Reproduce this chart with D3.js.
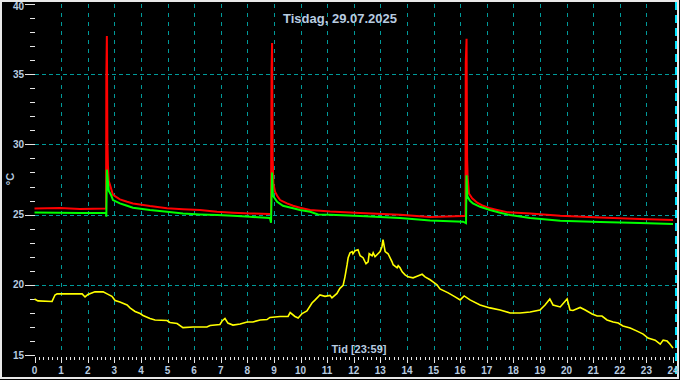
<!DOCTYPE html>
<html><head><meta charset="utf-8">
<script src="https://cdn.jsdelivr.net/npm/d3@7"></script>
<style>
html,body{margin:0;padding:0;background:#000;}
svg{display:block;}
text{font-family:"Liberation Sans",Arial,sans-serif;}
</style></head>
<body>
<script>
const title = "Tisdag, 29.07.2025";
const xTitle = "Tid [23:59]";
const yTitle = "°C";
const xTickLabels = d3.range(0, 25);
const yTickLabels = [15, 20, 25, 30, 35, 40];
const yGridValues = [20, 25, 30, 35];

const redHours = [0,0.96,1.71,2.69,2.70,2.72,2.74,2.76,2.79,2.84,2.95,3.21,3.48,3.70,4.34,4.98,5.58,6.22,6.86,7.46,8.10,8.85,8.89,8.91,8.93,8.95,8.98,9.04,9.12,9.23,9.49,9.72,9.98,10.36,11.11,12.24,13.74,14.87,16.11,16.20,16.21,16.24,16.26,16.28,16.33,16.45,16.64,16.86,17.12,17.39,17.76,18.63,19.76,21.26,22.76,24];
const redValues = [25.43,25.47,25.40,25.43,34.8,37.7,30.3,28.5,27.4,27.1,26.4,26.09,25.92,25.80,25.61,25.45,25.38,25.33,25.21,25.14,25.09,25.04,25.04,35.3,37.2,29.1,27.2,26.63,26.34,26.04,25.80,25.63,25.49,25.33,25.22,25.11,25.0,24.83,24.90,24.90,35.8,37.5,29.0,27.7,26.51,26.16,25.85,25.63,25.45,25.33,25.18,25.08,24.92,24.79,24.69,24.62];

const greenHours = [0,1.71,2.69,2.70,2.72,2.75,2.79,2.88,2.95,3.21,3.48,3.70,4.34,4.98,5.58,6.22,6.86,7.46,8.10,8.85,8.89,8.93,8.96,8.99,9.12,9.34,9.72,9.98,10.36,10.66,11.11,12.24,13.74,14.87,16.11,16.22,16.24,16.27,16.37,16.48,16.75,17.12,17.50,17.88,18.63,19.76,21.26,22.76,24];
const greenValues = [25.15,25.11,25.11,24.85,28.2,27.57,26.7,26.39,26.04,25.80,25.63,25.49,25.33,25.21,25.09,25.02,24.97,24.92,24.85,24.76,24.42,28.0,26.36,26.27,25.92,25.63,25.45,25.33,25.21,25.02,25.0,24.90,24.76,24.58,24.50,24.40,27.8,26.3,25.99,25.80,25.56,25.33,25.14,24.97,24.76,24.57,24.47,24.40,24.33];

const yellowHours = [0,0.13,0.66,0.77,0.85,1.79,1.90,2.01,2.27,2.58,2.73,2.91,3.03,3.21,3.48,3.59,3.78,3.97,4.08,4.34,4.53,4.98,5.09,5.36,5.58,5.96,6.48,6.60,6.97,7.05,7.16,7.27,7.46,7.73,7.99,8.21,8.48,8.74,8.85,9.23,9.53,9.61,9.79,9.91,10.06,10.24,10.43,10.55,10.73,10.92,11.11,11.18,11.37,11.48,11.60,11.67,11.75,11.79,11.86,11.94,11.97,12.05,12.16,12.24,12.35,12.46,12.54,12.58,12.69,12.73,12.80,12.91,12.99,13.06,13.10,13.18,13.29,13.44,13.48,13.63,13.67,13.74,13.82,13.93,14.04,14.23,14.38,14.57,14.68,14.87,14.98,15.13,15.24,15.55,15.81,16.0,16.15,16.37,16.75,17.12,17.5,17.88,18.25,18.63,19.0,19.19,19.37,19.49,19.76,20.02,20.13,20.24,20.51,20.70,20.96,21.15,21.33,21.52,21.75,21.94,22.12,22.39,22.65,22.88,23.06,23.33,23.52,23.63,23.78,23.89,24.0];
const yellowValues = [19.0,18.87,18.83,19.29,19.37,19.37,19.15,19.33,19.51,19.51,19.37,19.19,18.90,18.79,18.58,18.37,18.12,17.97,17.83,17.62,17.51,17.47,17.33,17.26,16.97,17.01,17.01,17.12,17.19,17.44,17.62,17.29,17.15,17.22,17.37,17.37,17.51,17.54,17.69,17.76,17.76,18.04,17.76,17.65,17.97,18.15,18.72,18.94,19.29,19.19,19.26,19.08,19.40,19.76,19.97,20.58,21.44,21.94,22.29,22.37,22.22,22.44,22.51,22.08,21.94,21.51,21.65,22.22,22.08,22.29,22.01,22.22,22.37,22.72,23.22,22.37,22.22,21.65,21.44,21.22,21.37,21.22,20.94,20.72,20.58,20.51,20.62,20.76,20.58,20.37,20.22,20.01,19.72,19.44,19.15,18.94,19.22,18.94,18.58,18.37,18.22,18.01,18.01,18.08,18.22,18.58,19.01,18.58,18.44,19.01,18.22,18.19,18.40,18.22,17.94,17.79,17.79,17.51,17.37,17.29,17.08,16.94,16.72,16.51,16.22,16.08,15.79,16.08,16.01,15.79,15.51];

const W = 680, H = 380;
const svg = d3.select("body").append("svg").attr("width", W).attr("height", H);
svg.append("rect").attr("width", W).attr("height", H).attr("fill", "#000");

const x = d3.scaleLinear().domain([0, 24]).range([34.5, 673]);
const y = d3.scaleLinear().domain([15, 40]).range([355.3, 3.7]);
const px = v => Math.round(x(v)) + 0.5;
const py = v => Math.round(y(v)) + 0.5;

const textColor = "#b8cce0";
const gridColor = "#009a9a";

// frame
svg.append("rect").attr("x", 1).attr("y", 1).attr("width", 677).attr("height", 377)
  .attr("fill", "none").attr("stroke", "#e8e8e8").attr("stroke-width", 2);

// vertical grid
svg.append("g").selectAll("line").data(d3.range(1, 24)).join("line")
  .attr("x1", d => px(d)).attr("x2", d => px(d))
  .attr("y1", 4).attr("y2", 355)
  .attr("stroke", gridColor).attr("stroke-width", 1).attr("stroke-dasharray", "4,5");
// horizontal grid
svg.append("g").selectAll("line").data(yGridValues).join("line")
  .attr("x1", 35).attr("x2", 676)
  .attr("y1", d => py(d)).attr("y2", d => py(d))
  .attr("stroke", gridColor).attr("stroke-width", 1).attr("stroke-dasharray", "4,3");

// cursor line at the end
svg.append("line").attr("x1", 676).attr("x2", 676).attr("y1", 2).attr("y2", 376)
  .attr("stroke", "#00e5ff").attr("stroke-width", 2).attr("stroke-dasharray", "8,5");

// y-axis ticks
svg.append("g").selectAll("line").data(d3.range(15, 41)).join("line")
  .attr("x1", d => d % 5 === 0 ? 25 : 30).attr("x2", 35)
  .attr("y1", d => py(d)).attr("y2", d => py(d))
  .attr("stroke", "#e6e6e6").attr("stroke-width", 1);
svg.append("g").selectAll("text").data(yTickLabels).join("text")
  .attr("x", 24).attr("y", d => Math.max(y(d) + 3.5, 10))
  .attr("text-anchor", "end").attr("fill", textColor)
  .attr("font-size", "10px").attr("font-weight", "bold").text(d => d);

// x-axis ticks
svg.append("g").selectAll("line").data(d3.range(0, 24 * 6 + 1)).join("line")
  .attr("x1", d => px(d / 6)).attr("x2", d => px(d / 6))
  .attr("y1", 357).attr("y2", d => d % 6 === 0 ? 363 : 360)
  .attr("stroke", "#e6e6e6").attr("stroke-width", 1);
svg.append("g").selectAll("text").data(xTickLabels).join("text")
  .attr("x", d => x(d)).attr("y", 373.5)
  .attr("text-anchor", "middle").attr("fill", textColor)
  .attr("font-size", "10px").attr("font-weight", "bold").text(d => d);

// series
function draw(hours, values, color, width) {
  const data = hours.map((h, i) => [h, values[i]]);
  svg.append("path").datum(data)
    .attr("fill", "none").attr("stroke", color).attr("stroke-width", width)
    .attr("stroke-linejoin", "miter")
    .attr("d", d3.line().x(d => x(d[0])).y(d => y(d[1])));
}
draw(yellowHours, yellowValues, "#ffff00", 1.6);
draw(redHours, redValues, "#ff0000", 2);
draw(greenHours, greenValues, "#00ff00", 2);

// titles
svg.append("text").attr("x", 340).attr("y", 22.5).attr("text-anchor", "middle")
  .attr("fill", textColor).attr("font-size", "13px").attr("font-weight", "bold").text(title);
svg.append("text").attr("x", 359).attr("y", 353).attr("text-anchor", "middle")
  .attr("fill", textColor).attr("font-size", "11px").attr("font-weight", "bold").text(xTitle);
svg.append("text").attr("transform", "translate(14,179) rotate(-90)").attr("text-anchor", "middle")
  .attr("fill", textColor).attr("font-size", "11px").attr("font-weight", "bold").text(yTitle);
</script>
</body></html>
